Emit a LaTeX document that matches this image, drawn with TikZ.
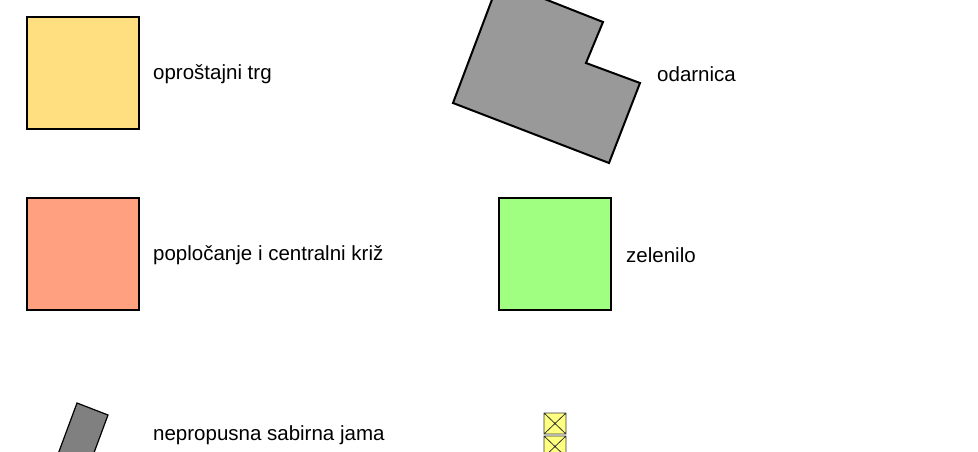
\documentclass[tikz,border=0pt]{standalone}
\usepackage{fontspec}
\setmainfont{Liberation Sans}
\usetikzlibrary{positioning}
\definecolor{trgcol}{HTML}{FFDF80}
\definecolor{krizcol}{HTML}{FFA080}
\definecolor{zelcol}{HTML}{A0FF80}
\definecolor{odarcol}{HTML}{999999}
\definecolor{jamacol}{HTML}{808080}
\definecolor{kutcol}{HTML}{FFFF80}
\tikzset{
  legbox/.style={draw=black, line width=2pt, minimum size=112pt, inner sep=0pt, outer sep=0pt},
  legtext/.style={inner sep=0pt, anchor=west, yshift=-1pt, font=\fontsize{20.5}{24}\selectfont}
}
\begin{document}
\begin{tikzpicture}[x=1pt, y=-1pt]
\useasboundingbox (0,0) rectangle (978,451);
\clip (0,0) rectangle (978,451);
% % Legend squares
\node[legbox, fill=trgcol] (trg) at (83,73) {};
\node[legtext, right=14pt of trg] (trgtxt) {oproštajni trg};
\node[legbox, fill=krizcol] (kriz) at (83,254) {};
\node[legtext, right=14pt of kriz] (kriztxt) {popločanje i centralni križ};
\node[legbox, fill=zelcol] (zel) at (555,254) {};
\node[legtext, right=15pt of zel] (zeltxt) {zelenilo};
% % odarnica outline
\draw[line width=2pt, fill=odarcol] (499,-19) -- (603,22) -- (586,63) -- (640,83) -- (609,163) -- (453,103) -- cycle;
\node[legtext] (odartxt) at (657,73) {odarnica};
% % septic tank and boxes
\draw[line width=1.2pt, fill=jamacol] (77,403) -- (108,415) -- (85,477) -- (54,465) -- cycle;
\node[legtext] (jamatxt) at (153,434) {nepropusna sabirna jama};
\foreach \y in {413,436}
  \draw[line width=0.8pt, draw=black!80, fill=kutcol] (544,\y) rectangle +(22,21) (544,\y) -- +(22,21) (566,\y) -- +(-22,21);
\end{tikzpicture}
\end{document}
